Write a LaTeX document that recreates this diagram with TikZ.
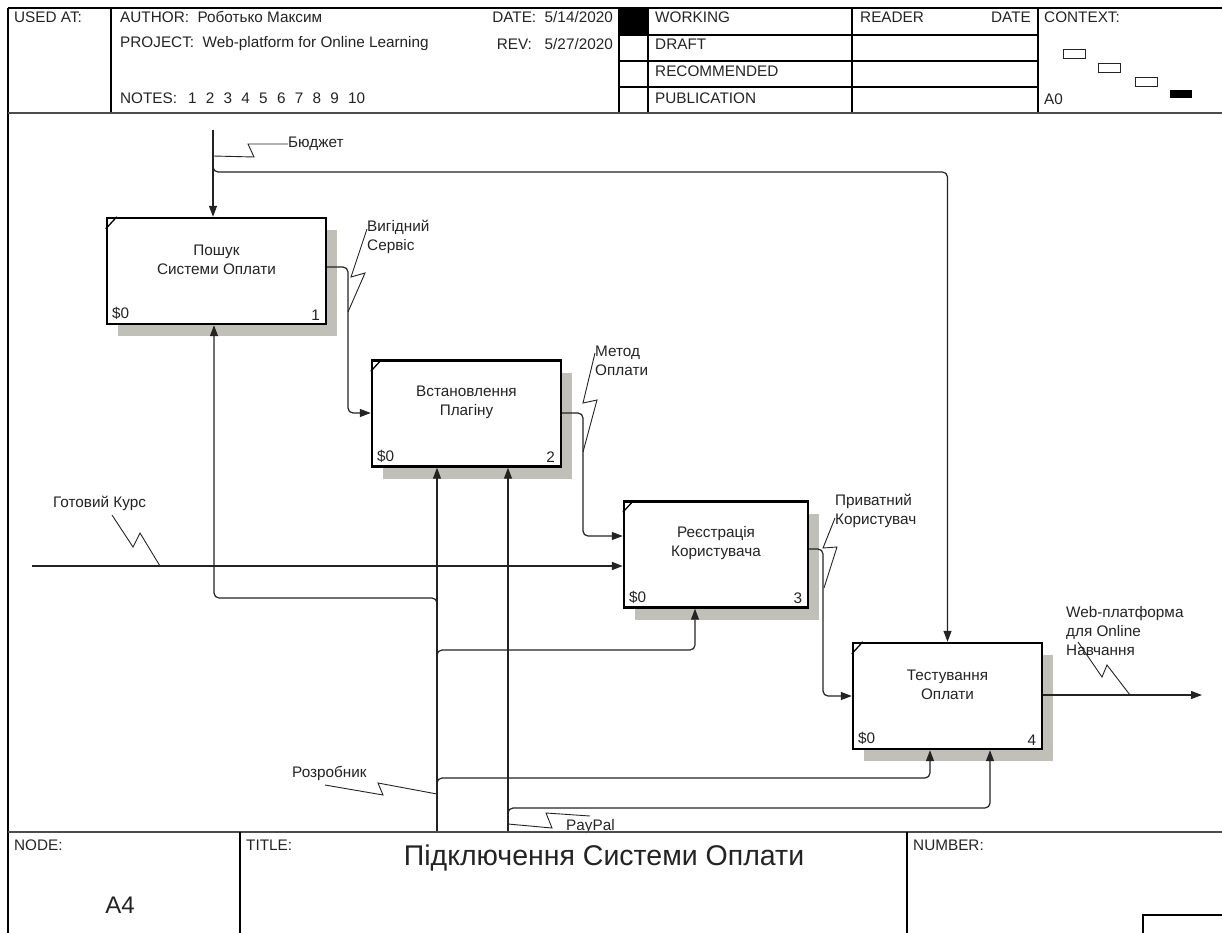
\documentclass[tikz,border=0pt]{standalone}
\usepackage{fontspec}
\setmainfont{Liberation Sans}
\usetikzlibrary{arrows.meta,shadows}
\definecolor{shade}{RGB}{192,192,184}
\definecolor{ink}{RGB}{35,35,35}
\newcommand\lbl{\fontsize{15.3}{19}\selectfont}
\tikzset{
  frame/.style={line width=1.2pt,black},
  heavy/.style={line width=2.6pt,black!70},
  box/.style={draw=black,line width=2.4pt,fill=white,minimum width=#1,minimum height=106pt,inner sep=0pt,
    drop shadow={shadow xshift=11pt,shadow yshift=-12pt,fill=shade,opacity=1}},
  boxtext/.style={align=center,inner sep=0pt,font=\lbl},
  tag/.style={inner sep=0pt,font=\lbl},
  corner/.style={line width=1.3pt,black},
  flow/.style={line width=1.2pt,rounded corners=5pt,-{Triangle[length=11pt,width=8pt]}},
  squig/.style={line width=0.9pt},
  txt/.style={anchor=west,inner sep=0pt,font=\lbl},
  ltxt/.style={anchor=north west,align=left,inner sep=0pt,font=\lbl},
}
\begin{document}
\begin{tikzpicture}[x=1pt,y=-1pt,color=ink]
\useasboundingbox (0,0) rectangle (1222,933);
\clip (0,0) rectangle (1222,933);
\draw[frame] (8,8) -- (1230,8);
\draw[frame] (8,8) -- (8,940);
\draw[frame] (111,8) -- (111,113);
\draw[frame] (619,8) -- (619,113);
\draw[frame] (648,8) -- (648,113);
\draw[frame] (852,8) -- (852,113);
\draw[frame] (1038,8) -- (1038,113);
\draw[frame] (619,35) -- (1038,35);
\draw[frame] (619,61) -- (1038,61);
\draw[frame] (619,87) -- (1038,87);
\fill[black] (619,8) rectangle (648,35);
\draw[heavy] (8,113) -- (1230,113);
\node[txt] (usedat) at (14,17) {USED AT:};
\node[txt] (author) at (120,17) {AUTHOR:\ \ Роботько Максим};
\node[txt] (project) at (120,44) {PROJECT:\ \ Web-platform for Online Learning};
\node[txt] (notes) at (120,98) {NOTES:};
\foreach \n in {1,...,10} \node[txt] (note\n) at (170+\n*17.8,98) {\n};
\node[txt,anchor=east] (date) at (613,17) {DATE:\ \ 5/14/2020};
\node[txt,anchor=east] (rev) at (613,44) {REV:\ \ \ 5/27/2020};
\node[txt] (working) at (655,17) {WORKING};
\node[txt] (draft) at (655,44) {DRAFT};
\node[txt] (recom) at (655,71) {RECOMMENDED};
\node[txt] (publ) at (655,98) {PUBLICATION};
\node[txt] (reader) at (860,17) {READER};
\node[txt,anchor=east] (rdate) at (1031,17) {DATE};
\node[txt] (context) at (1044,17) {CONTEXT:};
\node[txt] (azero) at (1044,99) {A0};
\draw[line width=0.9pt] (1063,49) rectangle (1085,58);
\draw[line width=0.9pt] (1098,63) rectangle (1120,72);
\draw[line width=0.9pt] (1135,77) rectangle (1157,86);
\fill[black] (1170,90) rectangle (1192,98);

\node[box=219pt] (b1) at (216.5,271) {};
\node[box=189pt] (b2) at (466.5,413.5) {};
\node[box=184pt] (b3) at (716,554.5) {};
\node[box=189pt] (b4) at (947.5,696) {};
\node[boxtext] (b1l) at ([yshift=-43pt]b1.north) {Пошук\\Системи Оплати};
\node[boxtext] (b2l) at ([yshift=-43pt]b2.north) {Встановлення\\Плагіну};
\node[boxtext] (b3l) at ([yshift=-43pt]b3.north) {Реєстрація\\Користувача};
\node[boxtext] (b4l) at ([yshift=-43pt]b4.north) {Тестування\\Оплати};
\node[tag,anchor=south west] (b1c) at ([shift={(6pt,5pt)}]b1.south west) {\$0};
\node[tag,anchor=south west] (b2c) at ([shift={(6pt,5pt)}]b2.south west) {\$0};
\node[tag,anchor=south west] (b3c) at ([shift={(6pt,5pt)}]b3.south west) {\$0};
\node[tag,anchor=south west] (b4c) at ([shift={(6pt,5pt)}]b4.south west) {\$0};
\node[tag,anchor=south east] (b1n) at ([shift={(-7pt,5pt)}]b1.south east) {1};
\node[tag,anchor=south east] (b2n) at ([shift={(-7pt,5pt)}]b2.south east) {2};
\node[tag,anchor=south east] (b3n) at ([shift={(-7pt,5pt)}]b3.south east) {3};
\node[tag,anchor=south east] (b4n) at ([shift={(-7pt,5pt)}]b4.south east) {4};
\draw[corner] ([yshift=-12pt]b1.north west) -- ([xshift=11pt]b1.north west);
\draw[corner] ([yshift=-12pt]b2.north west) -- ([xshift=11pt]b2.north west);
\draw[corner] ([yshift=-12pt]b3.north west) -- ([xshift=11pt]b3.north west);
\draw[corner] ([yshift=-12pt]b4.north west) -- ([xshift=11pt]b4.north west);

\coordinate (bud) at (213,130);
\draw[flow] (bud) -- (bud |- b1.north);
\draw[flow] (213,160) -- (213,172) -- (b4.north |- 0,172) -- (b4.north);
\draw[flow] (b1.east |- 0,267) -- (348,267) -- (348,413) -- (b2.west |- 0,413);
\draw[flow] (b2.east |- 0,413) -- (583,413) -- (583,536) -- (b3.west |- 0,536);
\draw[flow] (b3.east |- 0,549) -- (823,549) -- (823,696) -- (b4.west |- 0,696);
\coordinate (out) at (1202,695);
\draw[flow] (b4.east |- out) -- (out);
\coordinate (inp) at (32,566);
\draw[flow,line width=1.9pt] (inp) -- (inp -| b3.west);
\coordinate (dev) at (437,832);
\draw[flow] (dev) -- (dev |- b2.south);
\draw[flow] (437,610) -- (437,598) -- (214,598) -- (214,0 |- b1.south);
\draw[flow] (437,662) -- (437,650) -- (695,650) -- (695,0 |- b3.south);
\draw[flow] (437,790) -- (437,778) -- (930,778) -- (930,0 |- b4.south);
\coordinate (pay) at (508,832);
\draw[flow] (pay) -- (pay |- b2.south);
\draw[flow] (508,820) -- (508,808) -- (990,808) -- (990,0 |- b4.south);

\node[txt] (budl) at (288,144) {Бюджет};
\draw[squig] (213,156) -- (254,157) -- (248,144) -- (budl.west);
\node[ltxt] (vygl) at (367,220) {Вигідний\\Сервіс};
\draw[squig] (367,229) -- (351,277) -- (365,273) -- (348,312);
\node[ltxt] (metl) at (595,346) {Метод\\Оплати};
\draw[squig] (595,353) -- (583,403) -- (597,400) -- (583,452);
\node[ltxt] (pryl) at (835,494) {Приватний\\Користувач};
\draw[squig] (835,518) -- (823,548) -- (837,547) -- (824,588);
\node[ltxt] (webl) at (1066,606) {Web-платформа\\для Online\\Навчання};
\draw[squig] (1078,642) -- (1102,677) -- (1107,665) -- (1130,695);
\node[txt] (kursl) at (53,503) {Готовий Курс};
\draw[squig] (112,515) -- (133,547) -- (140,533) -- (160,566);
\node[txt] (devl) at (292,773) {Розробник};
\draw[squig] (325,785) -- (383,795) -- (378,783) -- (437,794);
\node[txt] (payl) at (566,827) {PayPal};
\draw[squig] (508,824) -- (552,828) -- (546,813) -- (590,816);

\draw[heavy] (8,832) -- (1230,832);
\draw[frame] (240,832) -- (240,940);
\draw[frame] (907,832) -- (907,940);
\draw[frame] (1143,940) -- (1143,915) -- (1230,915);
\node[txt] (nodel) at (14,845) {NODE:};
\node[txt] (titlel) at (246,845) {TITLE:};
\node[txt] (numberl) at (913,845) {NUMBER:};
\node[inner sep=0pt,font=\fontsize{28.5}{32}\selectfont] (title) at (604,858) {Підключення Системи Оплати};
\node[inner sep=0pt,font=\fontsize{24}{28}\selectfont] (nodeid) at (120,905) {A4};
\end{tikzpicture}
\end{document}
